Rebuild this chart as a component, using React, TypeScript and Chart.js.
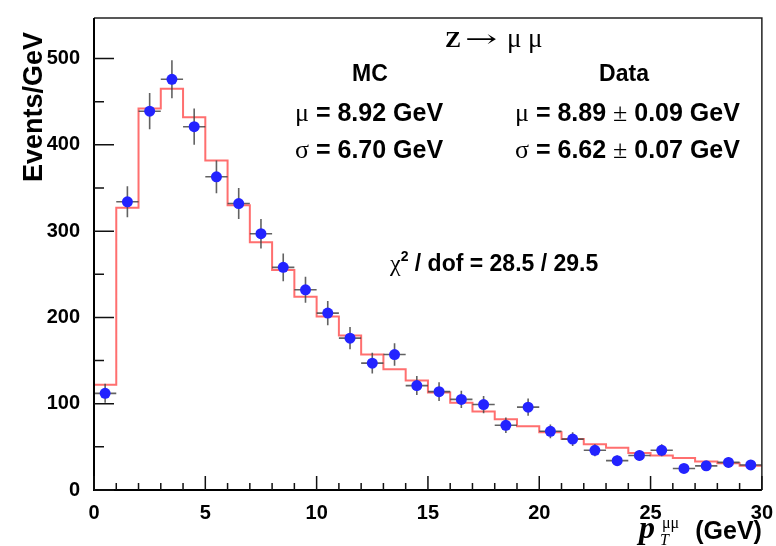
import React, { useEffect, useRef } from "react";
import { Chart, registerables } from "chart.js";
Chart.register(...registerables);

// Bin layout (pT in GeV)
const binCenters = [0.5, 1.5, 2.5, 3.5, 4.5, 5.5, 6.5, 7.5, 8.5, 9.5, 10.5, 11.5, 12.5, 13.5, 14.5, 15.5, 16.5, 17.5, 18.5, 19.5, 20.5, 21.5, 22.5, 23.5, 24.5, 25.5, 26.5, 27.5, 28.5, 29.5];
const binEdges = [0, 1, 2, 3, 4, 5, 6, 7, 8, 9, 10, 11, 12, 13, 14, 15, 16, 17, 18, 19, 20, 21, 22, 23, 24, 25, 26, 27, 28, 29, 30];

// Data (Events/GeV) with statistical errors
const dataValues = [112, 334, 439, 476, 421, 363, 332, 297, 258, 232, 205, 176, 147, 157, 121, 114, 105, 99, 75, 96, 68, 59, 46, 34, 40, 46, 25, 28, 32, 29];
const dataErrors = [11, 18, 21, 22, 21, 19, 18, 17, 16, 15, 14, 13, 12, 13, 11, 11, 10, 10, 9, 10, 8, 8, 7, 6, 6, 7, 5, 5, 6, 5];

// MC histogram (Events/GeV)
const mcValues = [122, 327, 442, 465, 432, 382, 330, 287, 255, 224, 201, 179, 157, 140, 127, 113, 101, 91, 82, 74, 67, 59, 53, 49, 43, 40, 37, 33, 31, 28];

const xTickLabels = [0, 5, 10, 15, 20, 25, 30];
const yTickLabels = [0, 100, 200, 300, 400, 500];

const SANS = '"Liberation Sans", Arial, Helvetica, sans-serif';
const SERIF = '"Liberation Serif", "DejaVu Serif", "Times New Roman", serif';

type Seg = { t: string; font: string; dx?: number; dy?: number };

function drawSegs(ctx: CanvasRenderingContext2D, x: number, y: number, segs: Seg[]) {
  let cx = x;
  for (const s of segs) {
    ctx.font = s.font;
    cx += s.dx || 0;
    ctx.fillText(s.t, cx, y + (s.dy || 0));
    cx += ctx.measureText(s.t).width;
  }
  return cx;
}

const errorBarPlugin = {
  id: "errorBars",
  beforeDatasetDraw(chart: any, args: any) {
    if (args.index !== 0) return;
    const ctx = chart.ctx as CanvasRenderingContext2D;
    const xs = chart.scales.x;
    const ys = chart.scales.y;
    ctx.save();
    ctx.strokeStyle = "rgba(70,70,70,0.85)";
    ctx.lineWidth = 1.6;
    dataValues.forEach((v, i) => {
      const x = xs.getPixelForValue(binCenters[i]);
      const y = ys.getPixelForValue(v);
      const x0 = xs.getPixelForValue(binEdges[i]);
      const x1 = xs.getPixelForValue(binEdges[i + 1]);
      const yt = ys.getPixelForValue(v + dataErrors[i]);
      const yb = ys.getPixelForValue(v - dataErrors[i]);
      ctx.beginPath();
      ctx.moveTo(x0, y);
      ctx.lineTo(x1, y);
      ctx.moveTo(x, yt);
      ctx.lineTo(x, yb);
      ctx.stroke();
    });
    ctx.restore();
  },
};

const framePlugin = {
  id: "frameAndText",
  afterDraw(chart: any) {
    const ctx = chart.ctx as CanvasRenderingContext2D;
    const a = chart.chartArea;
    const xs = chart.scales.x;
    const ys = chart.scales.y;
    ctx.save();
    // frame
    ctx.strokeStyle = "#222";
    ctx.lineWidth = 1.5;
    ctx.beginPath();
    ctx.moveTo(a.left, a.top);
    ctx.lineTo(a.right, a.top);
    ctx.lineTo(a.right, a.bottom);
    ctx.stroke();
    ctx.strokeStyle = "#000";
    ctx.lineWidth = 2;
    ctx.beginPath();
    ctx.moveTo(a.left, a.top);
    ctx.lineTo(a.left, a.bottom);
    ctx.lineTo(a.right, a.bottom);
    ctx.stroke();
    // ticks (inside)
    ctx.strokeStyle = "#111";
    ctx.lineWidth = 1.5;
    ctx.beginPath();
    for (let v = xs.min; v <= xs.max + 1e-9; v += 1) {
      const px = xs.getPixelForValue(v);
      const len = Math.abs(v % 5) < 1e-9 ? 14 : 7;
      ctx.moveTo(px, a.bottom);
      ctx.lineTo(px, a.bottom - len);
    }
    for (let v = 0; v <= ys.max; v += 50) {
      const py = ys.getPixelForValue(v);
      const len = v % 100 === 0 ? 20 : 10;
      ctx.moveTo(a.left, py);
      ctx.lineTo(a.left + len, py);
    }
    ctx.stroke();

    // texts
    ctx.fillStyle = "#000";
    ctx.textAlign = "left";
    ctx.textBaseline = "alphabetic";
    const B = `bold 25px ${SANS}`;
    const G = `26px ${SERIF}`;
    const B2 = `bold 23px ${SANS}`;
    const G2 = `24px ${SERIF}`;
    // Title
    ctx.font = `bold 24px ${SERIF}`;
    ctx.fillText("Z", 445, 47);
    ctx.save();
    ctx.translate(465, 47);
    ctx.scale(1.6, 1);
    ctx.font = `24px "DejaVu Serif", serif`;
    ctx.fillText("\u2192", 0, 0);
    ctx.restore();
    ctx.font = `27px ${SERIF}`;
    ctx.fillText("\u03bc", 507, 47);
    ctx.fillText("\u03bc", 528, 47);

    ctx.font = B2;
    ctx.textAlign = "center";
    ctx.fillText("MC", 370, 81);
    ctx.fillText("Data", 624, 81);
    ctx.textAlign = "left";

    drawSegs(ctx, 295, 121, [{ t: "\u03bc", font: G }, { t: " = 8.92 GeV", font: B }]);
    drawSegs(ctx, 295, 158, [{ t: "\u03c3", font: G }, { t: " = 6.70 GeV", font: B }]);
    drawSegs(ctx, 515, 121, [
      { t: "\u03bc", font: G },
      { t: " = 8.89 ", font: B },
      { t: "\u00b1", font: G },
      { t: " 0.09 GeV", font: B },
    ]);
    drawSegs(ctx, 515, 158, [
      { t: "\u03c3", font: G },
      { t: " = 6.62 ", font: B },
      { t: "\u00b1", font: G },
      { t: " 0.07 GeV", font: B },
    ]);
    drawSegs(ctx, 390, 271, [
      { t: "\u03c7", font: G2 },
      { t: "2", font: `bold 14px ${SANS}`, dy: -10 },
      { t: " / dof = 28.5 / 29.5", font: B2 },
    ]);

    // Y axis title
    ctx.save();
    ctx.translate(42, 32);
    ctx.rotate(-Math.PI / 2);
    ctx.textAlign = "right";
    ctx.font = `bold 27px ${SANS}`;
    ctx.fillText("Events/GeV", 0, 0);
    ctx.restore();

    // X axis title
    ctx.textAlign = "right";
    ctx.font = `bold 25px ${SANS}`;
    ctx.fillText("(GeV)", a.right, 539);
    ctx.textAlign = "left";
    ctx.font = `italic bold 32px ${SERIF}`;
    ctx.fillText("p", 639, 538);
    ctx.font = `italic 16px ${SERIF}`;
    ctx.fillText("T", 660, 545);
    ctx.font = `16px ${SERIF}`;
    ctx.fillText("\u03bc\u03bc", 662, 528);
    ctx.restore();
  },
};

export default function App() {
  const ref = useRef<HTMLCanvasElement | null>(null);
  useEffect(() => {
    if (!ref.current) return;
    const scatterData = binCenters.map((x, i) => ({ x, y: dataValues[i] }));
    const mcLine = binEdges.map((x, i) => ({ x, y: mcValues[Math.min(i, mcValues.length - 1)] }));
    const chart = new Chart(ref.current, {
      type: "scatter",
      data: {
        datasets: [
          {
            type: "scatter",
            label: "Data",
            data: scatterData,
            pointRadius: 5.5,
            pointBackgroundColor: "rgb(35,35,255)",
            pointBorderColor: "rgb(35,35,255)",
            pointBorderWidth: 0,
          } as any,
          {
            type: "line",
            label: "MC",
            data: mcLine,
            stepped: true,
            pointRadius: 0,
            borderColor: "rgba(255,95,95,0.9)",
            borderWidth: 2,
            fill: false,
            showLine: true,
          } as any,
        ],
      },
      options: {
        animation: false,
        responsive: false,
        maintainAspectRatio: false,
        devicePixelRatio: 1,
        layout: { padding: { top: 11, right: 13, left: 0, bottom: 0 } },
        plugins: { legend: { display: false }, tooltip: { enabled: false } },
        scales: {
          x: {
            type: "linear",
            min: 0,
            max: 30,
            grid: { display: false },
            border: { display: false },
            afterFit: (s: any) => {
              s.height = 56;
            },
            afterBuildTicks: (s: any) => {
              s.ticks = xTickLabels.map((v) => ({ value: v }));
            },
            ticks: {
              padding: 3,
              color: "#000",
              font: { family: SANS, size: 20, weight: "bold" },
              maxRotation: 0,
            },
          },
          y: {
            type: "linear",
            min: 0,
            max: 547,
            grid: { display: false },
            border: { display: false },
            afterFit: (s: any) => {
              s.width = 94;
            },
            afterBuildTicks: (s: any) => {
              s.ticks = yTickLabels.map((v) => ({ value: v }));
            },
            ticks: {
              padding: 6,
              color: "#000",
              font: { family: SANS, size: 20, weight: "bold" },
            },
          },
        },
      },
      plugins: [errorBarPlugin, framePlugin],
    } as any);
    return () => chart.destroy();
  }, []);
  return (
    <div style={{ position: "fixed", left: 0, top: 0, width: 776, height: 546, background: "#fff" }}>
      <canvas ref={ref} width={776} height={546} style={{ display: "block" }} />
    </div>
  );
}
